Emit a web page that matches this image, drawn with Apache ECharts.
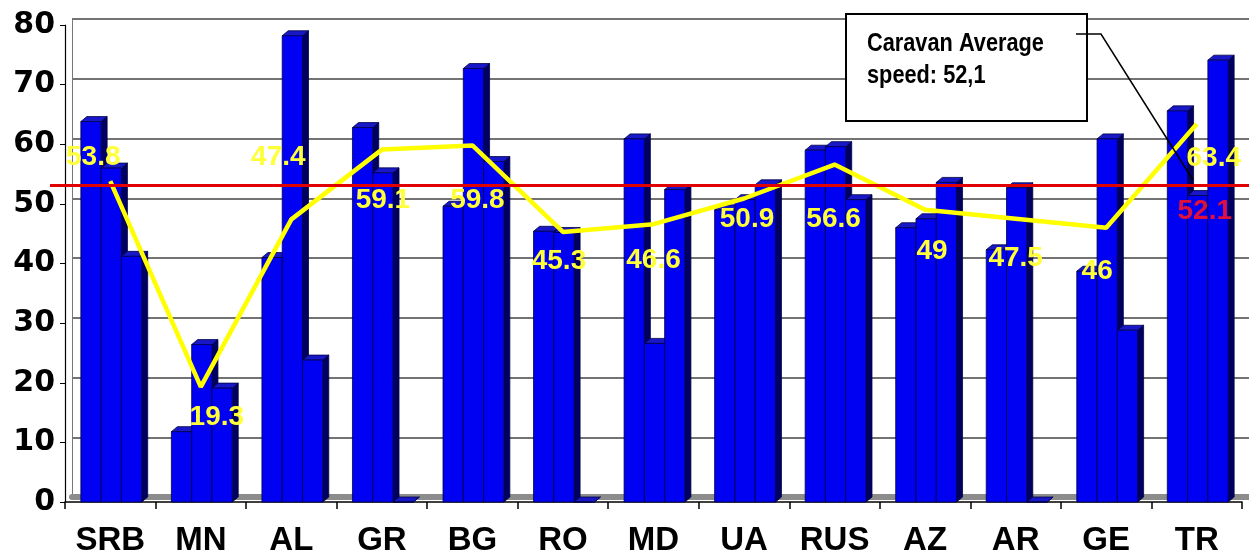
<!DOCTYPE html>
<html>
<head>
<meta charset="utf-8">
<script src="https://cdn.jsdelivr.net/npm/echarts@6/dist/echarts.min.js"></script>
<style>
  html, body { margin: 0; padding: 0; background: #fff; }
  #chart { width: 1249px; height: 557px; }
</style>
</head>
<body>
<div id="chart"></div>
<script>
// countries along the caravan route
const paises = ['SRB', 'MN', 'AL', 'GR', 'BG', 'RO', 'MD', 'UA', 'RUS', 'AZ', 'AR', 'GE', 'TR'];

// three bars per country (speed readings)
const tramo1 = [63.8, 11.8, 41.0, 62.8, 49.6, 45.4, 60.9, 49.0, 59.0, 46.0, 42.3, 38.7, 65.6];
const tramo2 = [56.0, 26.4, 78.2, 55.2, 72.7, 45.2, 26.6, 50.7, 59.6, 47.5, 52.7, 60.9, 51.4];
const tramo3 = [41.2, 19.1, 23.8, 0, 57.1, 0, 52.4, 53.2, 50.7, 53.6, 0, 28.8, 74.1];

// per-country average (yellow line) and caravan average (red line)
const promedio = [53.8, 19.3, 47.4, 59.1, 59.8, 45.3, 46.6, 50.9, 56.6, 49, 47.5, 46, 63.4];
const promedioCaravana = 52.1;

// where each yellow label sits, relative to its point (style only)
const desplazaEtiqueta = [[-17, -24], [16, 30], [-13, -62], [1, 51], [5, 55], [-4, 29], [0, 36],
  [3, 21], [-1, 55], [7, 41], [0, 39], [-9, 44], [17, 34]];

const chartDom = document.getElementById('chart');
const myChart = echarts.init(chartDom);

const frente = '#0000F2', lado = '#000060', tapa = '#1818C8', borde = '#000048';

function barra3D(k) {
  return function (params, api) {
    const i = api.value(0), v = api.value(1);
    const base = api.coord([i, 0]);
    const arriba = api.coord([i, v]);
    const w = api.size([1, 0])[0] * 0.224;
    const dx = 6, dy = 5;
    const x0 = base[0] - 1.5 * w + 1 + k * w;
    const x1 = x0 + w;
    const yb = base[1], yt = arriba[1];
    return {
      type: 'group',
      children: [
        { type: 'polygon', shape: { points: [[x1, yt], [x1 + dx, yt - dy], [x1 + dx, yb - dy], [x1, yb]] },
          style: { fill: lado, stroke: borde, lineWidth: 0.8 } },
        { type: 'polygon', shape: { points: [[x0, yt], [x0 + dx, yt - dy], [x1 + dx, yt - dy], [x1, yt]] },
          style: { fill: tapa, stroke: borde, lineWidth: 0.8 } },
        { type: 'rect', shape: { x: x0, y: yt, width: w, height: yb - yt },
          style: { fill: frente, stroke: borde, lineWidth: 0.8 } }
      ]
    };
  };
}

const series = [tramo1, tramo2, tramo3].map(function (valores, k) {
  return {
    type: 'custom',
    xAxisIndex: 0,
    yAxisIndex: 0,
    z: 2,
    renderItem: barra3D(k),
    encode: { x: 0, y: 1 },
    data: valores.map(function (v, i) { return [i, v]; })
  };
});

// red caravan average, drawn on the back plane
series.push({
  type: 'line',
  xAxisIndex: 2,
  yAxisIndex: 2,
  z: 3,
  data: [],
  markLine: {
    symbol: 'none',
    silent: true,
    animation: false,
    lineStyle: { color: '#E00000', width: 3, type: 'solid' },
    label: {
      show: true,
      position: 'insideEndBottom',
      distance: [17, 12],
      formatter: String(promedioCaravana),
      color: '#E0103C',
      fontFamily: 'Liberation Sans',
      fontWeight: 'bold',
      fontSize: 28
    },
    data: [{ yAxis: promedioCaravana }]
  }
});

// yellow average line
series.push({
  type: 'line',
  xAxisIndex: 0,
  yAxisIndex: 0,
  z: 4,
  symbol: 'circle',
  symbolSize: 1,
  showSymbol: true,
  lineStyle: { color: '#FFFF00', width: 4.5 },
  itemStyle: { color: '#FFFF00' },
  label: {
    show: true,
    position: 'inside',
    color: '#FFFF3A',
    fontFamily: 'Liberation Sans',
    fontWeight: 'bold',
    fontSize: 28
  },
  data: promedio.map(function (v, i) {
    return { value: v, label: { offset: desplazaEtiqueta[i] } };
  })
});

const option = {
  animation: false,
  backgroundColor: '#fff',
  grid: [
    { left: 65, right: 7, top: 25, bottom: 54 },   // front plane
    { left: 72, right: 0, top: 19, bottom: 60 },   // back wall
    { left: 50, right: 0, top: 19, bottom: 60 }    // red line
  ],
  xAxis: [
    {
      gridIndex: 0,
      type: 'category',
      data: paises,
      boundaryGap: true,
      axisLine: { show: true, lineStyle: { color: '#000', width: 1.5 } },
      axisTick: { show: true, interval: 0, length: 7, lineStyle: { color: '#000', width: 1.5 } },
      axisLabel: {
        interval: 0,
        margin: 22,
        color: '#000',
        fontFamily: 'Liberation Sans',
        fontWeight: 'bold',
        fontSize: 33
      },
      splitLine: { show: false }
    },
    {
      gridIndex: 1,
      type: 'value',
      min: 0,
      max: 1,
      offset: 3,
      axisLine: { show: true, lineStyle: { color: '#8C8C8C', width: 6 } },
      axisTick: { show: false },
      axisLabel: { show: false },
      splitLine: { show: false }
    },
    {
      gridIndex: 2,
      type: 'value',
      min: 0,
      max: 1,
      show: false
    }
  ],
  yAxis: [
    {
      gridIndex: 0,
      type: 'value',
      min: 0,
      max: 80,
      interval: 10,
      axisLine: { show: true, lineStyle: { color: '#000', width: 1.2 } },
      axisTick: { show: true, length: 5, lineStyle: { color: '#000' } },
      axisLabel: {
        margin: 10,
        color: '#000',
        fontFamily: 'DejaVu Sans',
        fontWeight: 'bold',
        fontSize: 30
      },
      splitLine: { show: false }
    },
    {
      gridIndex: 1,
      type: 'value',
      min: 0,
      max: 80,
      interval: 10,
      axisLine: { show: true, lineStyle: { color: '#777', width: 1 } },
      axisTick: { show: false },
      axisLabel: { show: false },
      splitLine: { show: true, lineStyle: { color: '#444', width: 1.5 } }
    },
    {
      gridIndex: 2,
      type: 'value',
      min: 0,
      max: 80,
      show: false
    }
  ],
  graphic: [
    {
      type: 'rect',
      z: 10,
      shape: { x: 846, y: 14, width: 241, height: 107 },
      style: { fill: '#fff', stroke: '#000', lineWidth: 2 }
    },
    {
      type: 'text',
      z: 11,
      x: 867,
      y: 28,
      scaleX: 0.87,
      style: {
        text: 'Caravan Average\nspeed: 52,1',
        fill: '#000',
        font: 'bold 25px "Liberation Sans", sans-serif',
        lineHeight: 32
      }
    },
    {
      type: 'polyline',
      z: 11,
      shape: { points: [[1076, 34], [1101, 34], [1193, 180]] },
      style: { stroke: '#000', lineWidth: 1.5, fill: null }
    }
  ],
  series: series
};

myChart.setOption(option);
</script>
</body>
</html>
